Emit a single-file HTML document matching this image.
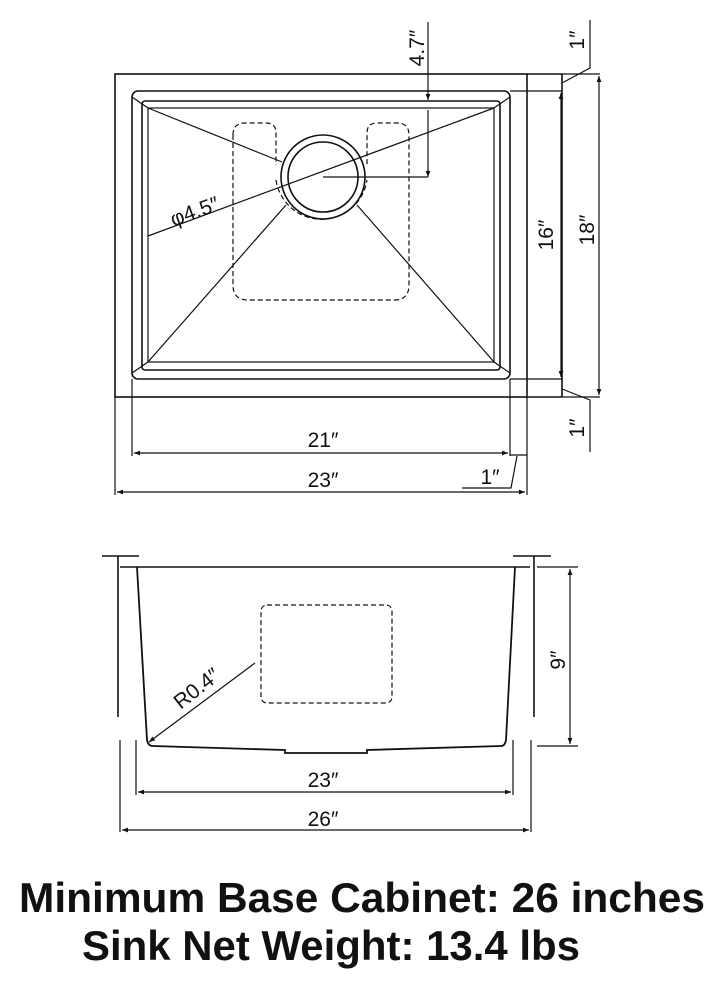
<!DOCTYPE html>
<html><head><meta charset="utf-8"><style>
html,body{margin:0;padding:0;background:#fff;}
svg{display:block}
text{font-family:"Liberation Sans",sans-serif;fill:#111}
</style></head><body>
<svg width="724" height="990" viewBox="0 0 724 990" xmlns="http://www.w3.org/2000/svg">
<defs>
<marker id="a" viewBox="0 0 10 10" refX="10" refY="5" markerWidth="8" markerHeight="5" orient="auto-start-reverse"><path d="M0,1 L10,5 L0,9 z" fill="#111"/></marker>
</defs>
<g stroke="#111" fill="none" stroke-width="1.6">
<rect x="115" y="74" width="412" height="323"/>
<line x1="527" y1="74" x2="562" y2="74"/>
<line x1="527" y1="397" x2="562" y2="397"/>
<line x1="562" y1="74" x2="562" y2="397"/>
<rect x="132" y="91" width="378" height="288" rx="6"/>
<rect x="142" y="101" width="358" height="269" rx="3"/>
<rect x="148" y="108" width="346" height="254" stroke-width="1.2"/>
<g stroke-width="1.2">
<line x1="132" y1="97" x2="148" y2="108"/><line x1="510" y1="97" x2="494" y2="108"/>
<line x1="132" y1="373" x2="148" y2="362"/><line x1="510" y1="373" x2="494" y2="362"/>
<line x1="148" y1="108" x2="282" y2="162"/>
<line x1="148" y1="362" x2="286" y2="205"/>
<line x1="494" y1="362" x2="357" y2="205"/>
<line x1="148" y1="236" x2="494" y2="108"/>
</g>
<circle cx="323" cy="177" r="42"/>
<circle cx="323" cy="177" r="35"/>
<path d="M233,135 Q233,123 245,123 L266,123 Q276,123 276,133 L276,165 M233,135 L233,285 Q233,300 248,300 L394,300 Q409,300 409,285 L409,135 Q409,123 397,123 L377,123 Q367,123 367,133 L367,165 M276,180 A46,46 0 0 0 367,180" stroke-dasharray="5,3" stroke-width="1.2"/>
<line x1="428" y1="22" x2="428" y2="100" stroke-width="1.2" marker-end="url(#a)"/>
<line x1="428" y1="110" x2="428" y2="177" stroke-width="1.2" marker-end="url(#a)"/>
<line x1="323" y1="177" x2="428" y2="177" stroke-width="1.2"/>
<line x1="510" y1="91" x2="562" y2="91" stroke-width="1.2"/>
<line x1="510" y1="379" x2="562" y2="379" stroke-width="1.2"/>
<line x1="561" y1="93" x2="561" y2="377" stroke-width="1.2" marker-start="url(#a)" marker-end="url(#a)"/>
<line x1="562" y1="74" x2="600" y2="74" stroke-width="1.2"/>
<line x1="562" y1="397" x2="600" y2="397" stroke-width="1.2"/>
<line x1="599" y1="76" x2="599" y2="395" stroke-width="1.2" marker-start="url(#a)" marker-end="url(#a)"/>
<polyline points="562,83 590,68 590,20" stroke-width="1.2"/>
<polyline points="562,389 590,400 590,452" stroke-width="1.2"/>
<line x1="132" y1="379" x2="132" y2="456" stroke-width="1.2"/>
<line x1="510" y1="379" x2="510" y2="456" stroke-width="1.2"/>
<line x1="134" y1="453" x2="508" y2="453" stroke-width="1.2" marker-start="url(#a)" marker-end="url(#a)"/>
<line x1="115" y1="397" x2="115" y2="495" stroke-width="1.2"/>
<line x1="527" y1="397" x2="527" y2="495" stroke-width="1.2"/>
<line x1="117" y1="492" x2="525" y2="492" stroke-width="1.2" marker-start="url(#a)" marker-end="url(#a)"/>
<line x1="510" y1="455" x2="527" y2="455" stroke-width="1.2"/>
<polyline points="517,456 511,488 462,488" stroke-width="1.2"/>
<line x1="120" y1="567" x2="530" y2="567"/>
<line x1="102" y1="556" x2="139" y2="556"/>
<line x1="118" y1="556" x2="118" y2="717"/>
<line x1="513" y1="556" x2="551" y2="556"/>
<line x1="534" y1="556" x2="534" y2="717"/>
<path d="M137,567 L147,740 Q148,746 153,746 L285,750 L285,753 L367,753 L367,750 L501,746 Q505,746 506,740 L515,567" stroke-width="1.8"/>
<rect x="261" y="605" width="131" height="98" rx="6" stroke-dasharray="5,3" stroke-width="1.2"/>
<line x1="255" y1="663" x2="149" y2="742" stroke-width="1.2" marker-end="url(#a)"/>
<line x1="537" y1="567" x2="578" y2="567" stroke-width="1.2"/>
<line x1="537" y1="746" x2="578" y2="746" stroke-width="1.2"/>
<line x1="570" y1="569" x2="570" y2="744" stroke-width="1.2" marker-start="url(#a)" marker-end="url(#a)"/>
<line x1="136" y1="740" x2="136" y2="795" stroke-width="1.2"/>
<line x1="513" y1="740" x2="513" y2="795" stroke-width="1.2"/>
<line x1="138" y1="792" x2="511" y2="792" stroke-width="1.2" marker-start="url(#a)" marker-end="url(#a)"/>
<line x1="120" y1="740" x2="120" y2="832" stroke-width="1.2"/>
<line x1="531" y1="740" x2="531" y2="832" stroke-width="1.2"/>
<line x1="122" y1="830" x2="529" y2="830" stroke-width="1.2" marker-start="url(#a)" marker-end="url(#a)"/>
</g>
<g font-size="21">
<text x="424" y="48" transform="rotate(-90 424 48)" text-anchor="middle">4.7″</text>
<text x="197" y="218" transform="rotate(-20 197 218)" text-anchor="middle">φ4.5″</text>
<text x="553" y="235" transform="rotate(-90 553 235)" text-anchor="middle">16″</text>
<text x="594" y="230" transform="rotate(-90 594 230)" text-anchor="middle">18″</text>
<text x="584" y="40" transform="rotate(-90 584 40)" text-anchor="middle">1″</text>
<text x="584" y="428" transform="rotate(-90 584 428)" text-anchor="middle">1″</text>
<text x="323" y="447" text-anchor="middle">21″</text>
<text x="323" y="487" text-anchor="middle">23″</text>
<text x="490" y="484" text-anchor="middle">1″</text>
<text x="201" y="694" transform="rotate(-38 201 694)" text-anchor="middle">R0.4″</text>
<text x="565" y="660" transform="rotate(-90 565 660)" text-anchor="middle">9″</text>
<text x="323" y="787" text-anchor="middle">23″</text>
<text x="323" y="826" text-anchor="middle">26″</text>
</g>
<text x="19" y="912" font-size="42" font-weight="bold" textLength="686" lengthAdjust="spacingAndGlyphs">Minimum Base Cabinet: 26 inches</text>
<text x="82" y="960" font-size="42" font-weight="bold" textLength="498" lengthAdjust="spacingAndGlyphs">Sink Net Weight: 13.4 lbs</text>
</svg>
</body></html>
